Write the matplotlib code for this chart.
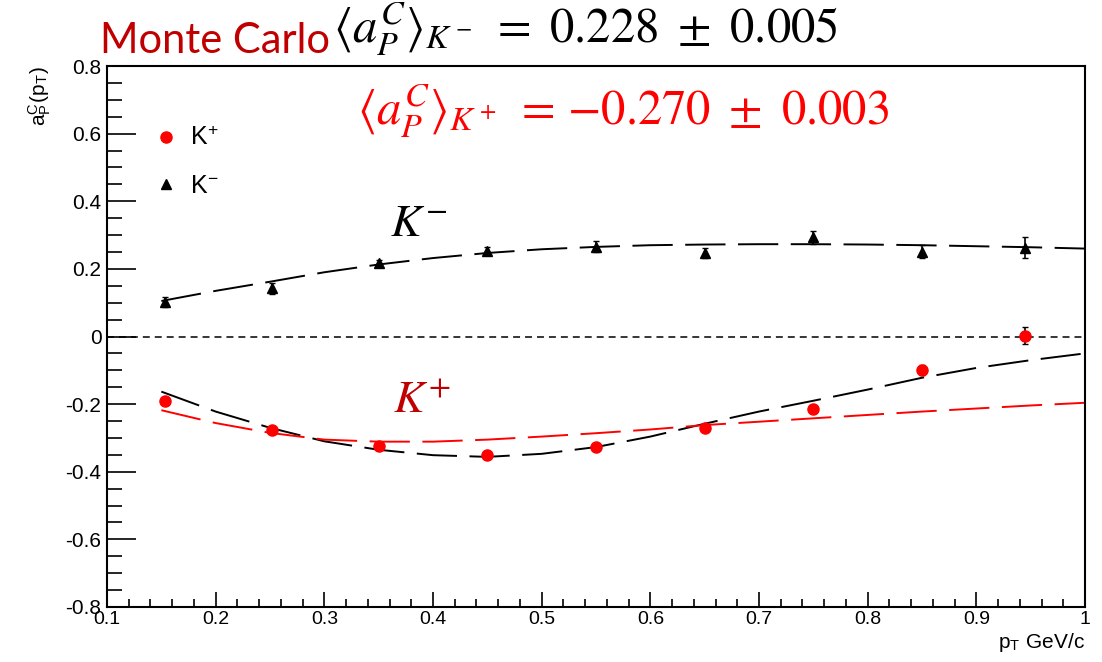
import matplotlib
matplotlib.use("Agg")
import matplotlib.pyplot as plt
from matplotlib.ticker import MultipleLocator
from matplotlib.lines import Line2D

plt.rcParams['mathtext.fontset'] = 'stix'
plt.rcParams['lines.scale_dashes'] = False
plt.rcParams['font.family'] = ['Liberation Sans', 'DejaVu Sans']

# data points
pt = [0.153, 0.252, 0.35, 0.45, 0.55, 0.65, 0.75, 0.85, 0.945]
kplus = [-0.192, -0.278, -0.325, -0.349, -0.327, -0.272, -0.214, -0.100, 0.002]
kplus_err = [0.01, 0.01, 0.01, 0.01, 0.01, 0.01, 0.01, 0.015, 0.025]
kminus = [0.103, 0.142, 0.216, 0.254, 0.266, 0.246, 0.293, 0.251, 0.263]
kminus_err = [0.015, 0.015, 0.01, 0.01, 0.015, 0.015, 0.02, 0.02, 0.03]

# fit curves
fit_x = [0.15, 0.20, 0.25, 0.30, 0.35, 0.40, 0.45, 0.50, 0.55,
         0.60, 0.65, 0.70, 0.75, 0.80, 0.85, 0.90, 0.95, 1.00]
fit_kminus = [0.105, 0.135, 0.162, 0.190, 0.213, 0.232, 0.247, 0.258, 0.265,
              0.270, 0.272, 0.273, 0.273, 0.272, 0.270, 0.267, 0.264, 0.260]
fit_kplus_black = [-0.163, -0.222, -0.270, -0.310, -0.335, -0.351, -0.356, -0.347, -0.327,
                   -0.296, -0.258, -0.222, -0.190, -0.157, -0.122, -0.093, -0.070, -0.050]
fit_kplus_red = [-0.218, -0.256, -0.285, -0.305, -0.311, -0.311, -0.305, -0.296, -0.286,
                 -0.275, -0.262, -0.252, -0.242, -0.232, -0.222, -0.213, -0.204, -0.196]

fig = plt.figure(figsize=(11.02, 6.62), dpi=100)
ax = fig.add_axes([107/1102, 55/662, 978/1102, 541/662])

long_dash = (0, (29, 9))
ax.axhline(0, color='black', lw=1.1, ls=(0, (5, 3.6)))
ax.plot(fit_x, fit_kminus, color='black', lw=1.4, ls=long_dash)
ax.plot(fit_x, fit_kplus_black, color='black', lw=1.4, ls=long_dash)
ax.plot(fit_x, fit_kplus_red, color='#ff0000', lw=1.4, ls=long_dash)

ax.errorbar(pt, kplus, yerr=kplus_err, fmt='o', color='#ff0000', ecolor='black',
            ms=8, elinewidth=1.2, capsize=2.5, zorder=5)
ax.errorbar(pt, kminus, yerr=kminus_err, fmt='^', color='black', ecolor='black',
            ms=7, elinewidth=1.2, capsize=2.5, zorder=5)

ax.set_xlim(0.1, 1.0)
ax.set_ylim(-0.8, 0.8)
ax.xaxis.set_minor_locator(MultipleLocator(0.02))
ax.yaxis.set_minor_locator(MultipleLocator(0.05))
ax.tick_params(axis='y', which='major', direction='in', length=21, width=1.2, labelsize=15, pad=4)
ax.tick_params(axis='y', which='minor', direction='in', length=11, width=1.2)
ax.tick_params(axis='x', which='major', direction='in', length=11, width=1.2, labelsize=14, pad=3)
ax.tick_params(axis='x', which='minor', direction='in', length=5.5, width=1.2)
ax.set_yticks([-0.8, -0.6, -0.4, -0.2, 0, 0.2, 0.4, 0.6, 0.8])
ax.set_yticklabels(['-0.8', '-0.6', '-0.4', '-0.2', '0', '0.2', '0.4', '0.6', '0.8'])
ax.set_xticks([0.1, 0.2, 0.3, 0.4, 0.5, 0.6, 0.7, 0.8, 0.9, 1.0])
ax.set_xticklabels(['0.1', '0.2', '0.3', '0.4', '0.5', '0.6', '0.7', '0.8', '0.9', '1'])
for s in ax.spines.values():
    s.set_linewidth(1.5)

ax.set_ylabel(r'a$_\mathregular{P}^\mathregular{C}$(p$_\mathregular{T}$)', loc='top', fontsize=15)
ax.yaxis.set_label_coords(-0.055, 1.0)
ax.set_xlabel(r'p$_\mathregular{T}$ GeV/c', loc='right', fontsize=15)
ax.xaxis.set_label_coords(1.0, -0.045)

handles = [Line2D([], [], marker='o', color='#ff0000', ls='none', ms=8),
           Line2D([], [], marker='^', color='black', ls='none', ms=7)]
ax.legend(handles, [r'K$^\mathregular{+}$', r'K$^\mathregular{-}$'], loc='upper left',
          bbox_to_anchor=(0.018, 0.93), frameon=False, fontsize=18,
          handletextpad=0.2, labelspacing=0.95, handlelength=1.5)

ax.text(0.387, 0.334, r'$K^{-}$', fontsize=33, color='black', ha='center', va='center')
ax.text(0.390, -0.192, r'$K^{+}$', fontsize=33, color='#c00000', ha='center', va='center')

fig.text(100/1102, 1 - 53/662, 'Monte Carlo', fontsize=30, color='#c00000',
         family=['Lato', 'DejaVu Sans'], ha='left', va='baseline')
fig.text(333/1102, 1 - 43/662, r'$\langle a_P^C\rangle_{K^-}\ =\ 0.228\ \pm\ 0.005$',
         fontsize=35, color='black', ha='left', va='baseline')
fig.text(357/1102, 1 - 125/662, r'$\langle a_P^C\rangle_{K^+}\ =\,{-}0.270\ \pm\ 0.003$',
         fontsize=35, color='#ff0000', ha='left', va='baseline')

fig.savefig('out.png', dpi=100)
